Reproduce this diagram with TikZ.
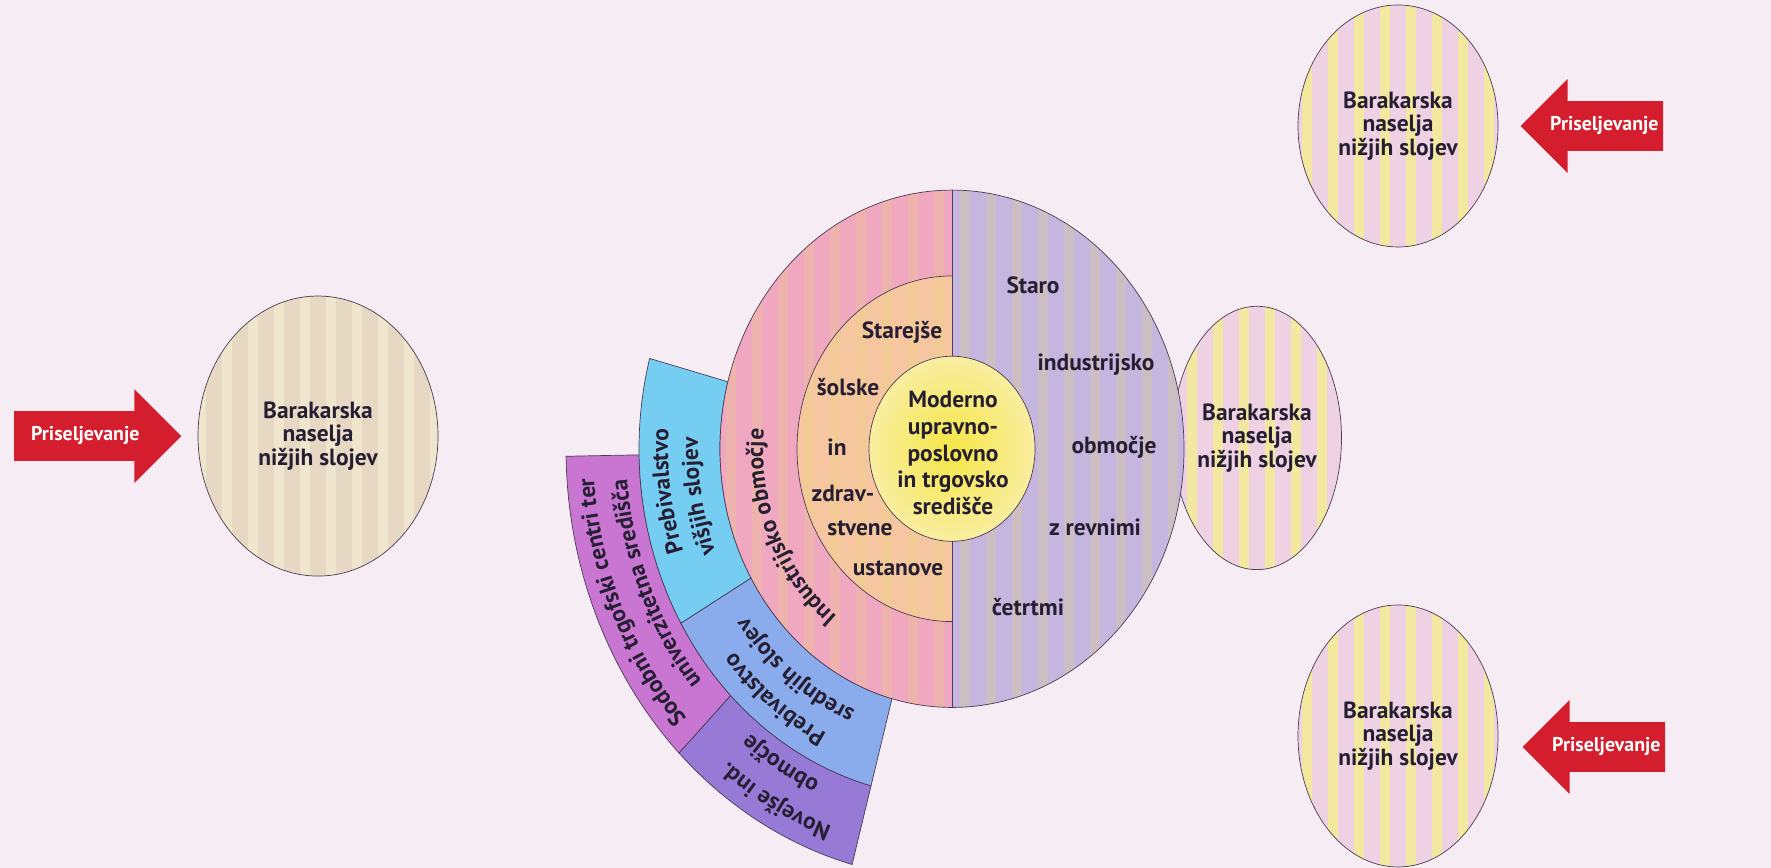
\documentclass[tikz,border=0pt]{standalone}
\usepackage{fontspec}
\setmainfont{PT Sans}
\usepackage{tikz}
\usetikzlibrary{positioning,calc,shapes.geometric,shapes.arrows,decorations.text}

\definecolor{paper}{RGB}{246,236,243}
\definecolor{ink}{RGB}{38,30,50}
\definecolor{edge}{RGB}{75,60,85}
\definecolor{pinkring}{RGB}{240,168,192}
\definecolor{midor}{RGB}{245,198,160}
\definecolor{cityline}{RGB}{235,215,120}
\definecolor{yelin}{RGB}{245,230,70}
\definecolor{yelout}{RGB}{248,238,160}
\definecolor{lav}{RGB}{196,182,222}
\definecolor{skyb}{RGB}{118,205,242}
\definecolor{blueb}{RGB}{138,172,236}
\definecolor{purp}{RGB}{200,118,210}
\definecolor{viol}{RGB}{150,122,214}
\definecolor{slumpink}{RGB}{238,210,228}
\definecolor{slumyel}{RGB}{242,232,160}
\definecolor{slumtan}{RGB}{231,216,196}
\definecolor{tanline}{RGB}{240,230,205}
\definecolor{arrred}{RGB}{212,30,45}

\newcommand{\labfont}{\fontsize{20}{20}\selectfont\bfseries}
\newcommand{\midfont}{\fontsize{20}{23}\selectfont\bfseries}
\newcommand{\arrfont}{\fontsize{17}{19}\selectfont\bfseries}

\begin{document}
\begin{tikzpicture}[
	x = 0.03cm, y = 0.03345cm,
	lab/.style = {font=\midfont, text=ink, align=center, inner sep=0pt},
	slum/.style 2 args = {ellipse, draw=edge, line width=0.6pt, fill=#1, inner sep=0pt,
		font=\labfont, text=ink, align=center,
		path picture={\foreach \k in {-6,...,5}
			\fill[#2] ([xshift=\k*0.78cm+0.24cm]path picture bounding box.south) rectangle ([xshift=\k*0.78cm+0.54cm]path picture bounding box.north);}},
	prisel/.style = {single arrow, single arrow head extend=0.66cm, single arrow tip angle=90,
		fill=arrred, text=white, font=\arrfont, inner ysep=0.5cm, inner xsep=0.13cm,
		text height=0.38cm, text depth=0.1cm},
	fan/.style = {draw=edge, line width=0.6pt},
	ringtext/.style = {decorate, decoration={text along path, text align=center,
		text={|\midfont\color{ink}|#1}}}
]

\useasboundingbox (0,0) rectangle (1771,778.5);
\fill[paper] (0,0) rectangle (1771,778.5);

% shanty towns and immigration
\node[slum={slumtan}{tanline}, minimum width=7.2cm, minimum height=8.4cm] (barL) at (318,387.4) {Barakarska\\naselja\\nižjih slojev};
\node[slum={slumpink}{slumyel}, minimum width=6cm, minimum height=7.26cm] (barT) at (1398,665.5) {Barakarska\\naselja\\nižjih slojev};
\node[slum={slumpink}{slumyel}, minimum width=4.95cm, minimum height=7.9cm] (barM) at (1257,385.7) {Barakarska\\naselja\\nižjih slojev};
\node[slum={slumpink}{slumyel}, minimum width=6cm, minimum height=7.86cm] (barB) at (1398,118.4) {Barakarska\\naselja\\nižjih slojev};

\node[prisel, inner xsep=0.5cm, left=0.48cm of barL] (arrL) {Priseljevanje};
\node[prisel, shape border rotate=180, right=0.66cm of barT] (arrT) {Priseljevanje};
\node[prisel, shape border rotate=180, right=0.72cm of barB, yshift=-0.33cm] (arrB) {Priseljevanje};

\coordinate (c) at (952,376);

% outer fan
\filldraw[fan, fill=purp] ($(c)+(181:313)$) arc[start angle=181, end angle=225, radius=313] -- ($(c)+(225:386)$) arc[start angle=225, end angle=181, radius=386] -- cycle;
\filldraw[fan, fill=viol] ($(c)+(225:313)$) arc[start angle=225, end angle=255, radius=313] -- ($(c)+(255:386)$) arc[start angle=255, end angle=225, radius=386] -- cycle;
% inner fan
\filldraw[fan, fill=skyb] ($(c)+(165:232)$) arc[start angle=165, end angle=210, radius=232] -- ($(c)+(210:313)$) arc[start angle=210, end angle=165, radius=313] -- cycle;
\filldraw[fan, fill=blueb] ($(c)+(210:232)$) arc[start angle=210, end angle=255, radius=232] -- ($(c)+(255:313)$) arc[start angle=255, end angle=210, radius=313] -- cycle;

% the city
\fill[pinkring] ($(c)+(90:232)$) arc[start angle=90, end angle=270, radius=232] -- cycle;
\fill[lav] ($(c)+(-90:232)$) arc[start angle=-90, end angle=90, radius=232] -- cycle;
\fill[midor] ($(c)+(90:155)$) arc[start angle=90, end angle=270, radius=155] -- cycle;
\begin{scope}
	\clip (c) circle[radius=232];
	\foreach \k in {-9,...,8}
		\fill[cityline, opacity=0.25] ($(c)+(\k*26+8,-240)$) rectangle ($(c)+(\k*26+18,240)$);
\end{scope}
\draw[fan] ($(c)+(90:155)$) arc[start angle=90, end angle=270, radius=155];
\draw[edge, line width=0.8pt] ($(c)+(90:232)$) -- ($(c)+(270:232)$);
\shade[inner color=yelin, outer color=yelout] (c) circle[radius=83];
\draw[fan] (c) circle[radius=83];
\draw[fan] (c) circle[radius=232];

\node[lab] (core) at (953,372.2) {Moderno\\upravno-\\poslovno\\in trgovsko\\središče};

\node[lab] (staro) at (1033,522.9) {Staro};
\node[lab] (industr) at (1096,451.1) {industrijsko};
\node[lab] (obm) at (1114,377.6) {območje};
\node[lab] (zrev) at (1095,305.8) {z revnimi};
\node[lab] (cetrt) at (1028,234.1) {četrtmi};

\node[lab] (starejse) at (902,480.7) {Starejše};
\node[lab] (solske) at (848,431.4) {šolske};
\node[lab] (in) at (837,377.6) {in};
\node[lab] (zdrav) at (843,336.3) {zdrav-};
\node[lab] (stvene) at (860,304.9) {stvene};
\node[lab] (ustanove) at (898,269.1) {ustanove};

% curved labels
\path[ringtext={Industrijsko območje}] ($(c)+(244:189)$) arc[start angle=244, end angle=164, radius=189];
\path[ringtext={Prebivalstvo}] ($(c)+(228:284)$) arc[start angle=228, end angle=148, radius=284];
\path[ringtext={višjih slojev}] ($(c)+(230:254)$) arc[start angle=230, end angle=150, radius=254];
\path[ringtext={Prebivalstvo}] ($(c)+(273:284)$) arc[start angle=273, end angle=193, radius=284];
\path[ringtext={srednjih slojev}] ($(c)+(273:254)$) arc[start angle=273, end angle=193, radius=254];
\path[ringtext={Sodobni trgofski centri ter}] ($(c)+(244:359)$) arc[start angle=244, end angle=164, radius=359];
\path[ringtext={univerzitetna središča}] ($(c)+(243:326)$) arc[start angle=243, end angle=163, radius=326];
\path[ringtext={Novejše ind.}] ($(c)+(282:359)$) arc[start angle=282, end angle=202, radius=359];
\path[ringtext={območje}] ($(c)+(280:326)$) arc[start angle=280, end angle=200, radius=326];

\end{tikzpicture}
\end{document}
